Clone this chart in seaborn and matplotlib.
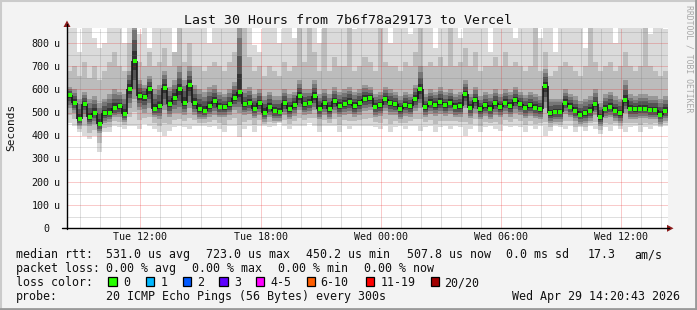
import numpy as np
import pandas as pd
import matplotlib
matplotlib.use("Agg")
import matplotlib.pyplot as plt
import seaborn as sns
from matplotlib.patches import Polygon, Rectangle
from matplotlib.lines import Line2D

# ---------------- data (microseconds), one value per 15-minute step ----------------
step_hours = 0.25
rtt_median = [
    576, 543, 470, 539, 479, 500, 451, 497, 500, 520, 527, 493, 603, 723, 571, 569, 600, 517, 529, 607,
    536, 564, 600, 543, 619, 543, 514, 507, 529, 550,
    526, 523, 536, 564, 590, 536, 543, 517, 540, 500, 526, 507, 503, 540, 514, 534, 571, 536, 543, 571,
    517, 540, 514, 550, 529, 537, 546, 529, 540, 560,
    563, 526, 531, 557, 540, 536, 514, 534, 529, 560, 600, 524, 543, 534, 546, 531, 543, 526, 529, 579,
    521, 554, 514, 531, 517, 540, 524, 543, 529, 554,
    536, 521, 531, 521, 514, 614, 497, 503, 503, 543, 526, 507, 491, 497, 507, 536, 479, 517, 526, 507,
    497, 554, 517, 514, 517, 517, 511, 511, 490, 508,
]
smoke_min = [
    457, 443, 414, 400, 386, 400, 329, 414, 414, 443, 436, 429, 443, 443, 429, 450, 443, 429, 414, 400,
    421, 436, 443, 436, 429, 443, 443, 443, 436, 443,
    429, 414, 443, 443, 393, 429, 443, 414, 443, 443, 436, 443, 457, 443, 429, 443, 443, 443, 457, 443,
    414, 443, 443, 443, 414, 443, 429, 443, 443, 443,
    443, 436, 429, 443, 414, 436, 443, 429, 443, 443, 421, 436, 443, 414, 436, 443, 429, 443, 436, 400,
    429, 443, 414, 436, 443, 429, 421, 443, 436, 443,
    436, 414, 443, 429, 443, 400, 421, 443, 436, 429, 443, 414, 436, 421, 443, 429, 407, 436, 421, 443,
    429, 414, 436, 443, 414, 436, 429, 443, 436, 443,
]
smoke_core_lo = [
    520, 500, 440, 480, 440, 450, 410, 455, 460, 480, 480, 460, 520, 560, 510, 500, 520, 480, 470, 510,
    480, 500, 500, 490, 520, 490, 470, 470, 480, 490,
    480, 480, 490, 510, 500, 490, 495, 475, 490, 460, 480, 465, 465, 490, 470, 485, 510, 490, 495, 510,
    470, 490, 470, 500, 480, 490, 495, 480, 490, 505,
    510, 480, 485, 505, 490, 490, 470, 485, 480, 505, 520, 480, 495, 485, 495, 485, 495, 480, 480, 520,
    475, 500, 470, 485, 470, 490, 480, 495, 480, 500,
    490, 475, 485, 475, 470, 520, 455, 460, 460, 495, 480, 465, 450, 455, 465, 490, 440, 475, 480, 465,
    455, 500, 470, 470, 475, 475, 470, 470, 450, 465,
]
smoke_core_hi = [
    610, 600, 560, 590, 560, 570, 540, 560, 580, 600, 590, 580, 680, 900, 640, 620, 660, 600, 620, 680,
    610, 640, 700, 640, 700, 620, 600, 590, 610, 620,
    590, 580, 600, 630, 900, 600, 610, 580, 600, 570, 590, 570, 570, 600, 580, 590, 640, 600, 600, 640,
    580, 600, 580, 610, 590, 600, 610, 590, 600, 620,
    610, 580, 590, 610, 600, 590, 570, 590, 580, 620, 700, 580, 600, 590, 610, 590, 600, 580, 590, 640,
    580, 610, 570, 590, 580, 600, 580, 600, 590, 610,
    590, 575, 590, 580, 570, 690, 560, 560, 560, 600, 580, 570, 550, 560, 570, 600, 540, 580, 590, 570,
    560, 640, 580, 570, 580, 580, 570, 570, 560, 570,
]
smoke_mid_hi = [
    680, 700, 660, 720, 650, 700, 640, 680, 720, 760, 700, 680, 800, 900, 720, 700, 760, 700, 720, 780,
    700, 760, 900, 720, 800, 700, 700, 680, 700, 720,
    700, 680, 720, 760, 900, 900, 740, 680, 700, 660, 700, 680, 660, 720, 680, 700, 900, 720, 900, 760,
    680, 900, 680, 740, 700, 700, 900, 680, 700, 740,
    720, 680, 900, 720, 700, 700, 680, 720, 700, 760, 900, 700, 720, 700, 740, 700, 900, 700, 720, 780,
    700, 760, 680, 700, 700, 740, 700, 760, 700, 720,
    700, 680, 700, 900, 680, 760, 660, 680, 700, 720, 700, 680, 660, 700, 900, 720, 680, 700, 720, 680,
    700, 760, 700, 680, 700, 900, 700, 680, 660, 680,
]
smoke_max = [
    900, 900, 760, 900, 900, 820, 780, 800, 900, 900, 900, 800, 900, 900, 840, 900, 780, 900, 900, 900,
    900, 740, 900, 900, 900, 900, 900, 900, 800, 900,
    900, 900, 900, 900, 900, 800, 900, 790, 760, 900, 900, 900, 800, 900, 900, 820, 900, 900, 760, 900,
    800, 840, 900, 900, 900, 900, 900, 860, 900, 900,
    900, 900, 900, 900, 800, 900, 900, 900, 840, 900, 900, 900, 900, 780, 900, 900, 900, 900, 820, 900,
    900, 900, 900, 900, 760, 900, 900, 900, 900, 820,
    900, 900, 900, 900, 820, 900, 900, 760, 900, 900, 900, 900, 900, 780, 900, 900, 900, 900, 900, 800,
    900, 900, 900, 900, 900, 900, 840, 900, 900, 860,
]

y_ticks = [0, 100, 200, 300, 400, 500, 600, 700, 800]
x_tick_labels = ["Tue 12:00", "Tue 18:00", "Wed 00:00", "Wed 06:00", "Wed 12:00"]
start_hour = 8 + 20 / 60  # Tue 08:20, 30 hours before Wed 14:20
title = "Last 30 Hours from 7b6f78a29173 to Vercel"

loss_labels = ["0", "1", "2", "3", "4-5", "6-10", "11-19", "20/20"]
loss_colors = ["#26ff00", "#00b8ff", "#0059ff", "#5e00ff", "#ff00ff", "#ff5e00", "#ff0000", "#a10000"]

n = len(rtt_median)
for arr in (smoke_min, smoke_core_lo, smoke_core_hi, smoke_mid_hi, smoke_max):
    assert len(arr) == n, len(arr)

# ---------------- figure ----------------
sns.set_theme(style="white")
plt.rcParams['font.family'] = ['DejaVu Sans Mono', 'DejaVu Sans']

W, H = 697, 310
fig = plt.figure(figsize=(W / 100, H / 100), dpi=100)
fig.patch.set_facecolor('#f3f3f3')

def P(x, y):
    return (x / W, 1 - y / H)

x0, x1, y0, y1 = 67, 668, 228.3, 28
ax = fig.add_axes([x0 / W, 1 - y0 / H, (x1 - x0) / W, (y0 - y1) / H])
ax.set_facecolor('white')
ymax = (y0 - y1) / 0.2315
ax.set_xlim(0, n * step_hours)
ax.set_ylim(0, ymax)
for s in ax.spines.values():
    s.set_visible(False)
ax.set_xticks([])
ax.set_yticks([])

edges = np.arange(n + 1) * step_hours
def ext(a):
    a = np.asarray(a, float)
    return np.append(a, a[-1])

med = np.asarray(rtt_median, float)
smin = np.asarray(smoke_min, float)
clo = np.asarray(smoke_core_lo, float)
chi = np.asarray(smoke_core_hi, float)

# smoke: lightest outer band, then mid band, then a shaded core darkening toward the median
ax.fill_between(edges, ext(smin), ext(smoke_max), step='post', color='#dadada', lw=0, zorder=1)
ax.fill_between(edges, ext((smin + clo) / 2), ext(smoke_mid_hi), step='post', color='#bcbcbc', lw=0, zorder=1.1)
shades = [(0.0, '#979797'), (0.25, '#767676'), (0.5, '#545454'), (0.75, '#333333')]
for k, (f, c) in enumerate(shades):
    lo = clo + (med - clo) * f
    hi = chi + (med - chi) * f
    ax.fill_between(edges, ext(lo), ext(hi), step='post', color=c, lw=0, zorder=1.2 + 0.01 * k)

# grid (drawn over the smoke, as rrdtool does)
dot = (0, (1, 1))
first_hour = np.ceil(start_hour) - start_hour
hours = first_hour + np.arange(0, 30)
hours = hours[hours < n * step_hours]
major_x = []
for h in hours:
    hod = int(round(start_hour + h)) % 24
    if hod % 6 == 0:
        major_x.append(h)
        ax.axvline(h, color=(0.9, 0.1, 0.1, 0.45), lw=0.72, ls=dot, zorder=3)
    else:
        ax.axvline(h, color=(0.45, 0.45, 0.45, 0.45), lw=0.72, ls=dot, zorder=3)
for v in np.arange(50, ymax, 50):
    if v % 100 == 0:
        ax.axhline(v, color=(0.9, 0.1, 0.1, 0.45), lw=0.72, ls=dot, zorder=3)
    else:
        ax.axhline(v, color=(0.45, 0.45, 0.45, 0.45), lw=0.72, ls=dot, zorder=3)

# median rtt: dark vertical connectors + green points
tmid = (np.arange(n) + 0.5) * step_hours
ax.vlines(edges[1:-1], med[:-1], med[1:], colors="#1a1a1a", lw=1.2, zorder=4)
df = pd.DataFrame({"t": tmid, "median": rtt_median})
sns.scatterplot(data=df, x="t", y="median", marker="s", s=5, color="#26ff00",
                linewidth=0, ax=ax, zorder=5, legend=False)
ax.set_xlabel("")
ax.set_ylabel("")

# axes lines and arrows
fig.add_artist(Line2D([P(62, 0)[0], P(669, 0)[0]], [P(0, y0)[1]] * 2, color='black', lw=1.0))
fig.add_artist(Line2D([P(x0, 0)[0]] * 2, [P(0, y0 + 1)[1], P(0, 24)[1]], color='black', lw=1.0))
fig.add_artist(Polygon([P(667, y0 - 3.5), P(673.5, y0), P(667, y0 + 3.5)], closed=True,
                       color='#8b1a1a', lw=0, transform=fig.transFigure))
fig.add_artist(Polygon([P(x0 - 3.5, 27), P(x0, 20.5), P(x0 + 3.5, 27)], closed=True,
                       color='#8b1a1a', lw=0, transform=fig.transFigure))

# y tick labels
for v in y_ticks:
    py = y0 - v * 0.2315
    fig.text(*P(49.5, py + 3.6), f"{v}", ha='right', va='baseline', fontsize=7.2, color='#111111')
    if v != 0:
        fig.text(*P(54, py + 3.6), "u", ha='left', va='baseline', fontsize=7.2, color='#111111')

# x tick labels
for h, lab in zip(major_x, x_tick_labels):
    px = x0 + h / (n * step_hours) * (x1 - x0)
    fig.text(*P(px, 240), lab, ha='center', va='baseline', fontsize=7.2, color='#111111')

fig.text(*P(11, 127), "Seconds", rotation=90, ha='center', va='center', fontsize=8, color='#111111')
fig.text(*P(348, 24), title, ha='center', va='baseline', fontsize=9.5, color='#111111')
fig.text(*P(688.5, 5), "RRDTOOL / TOBI OETIKER", rotation=270, ha='center', va='top',
         fontsize=5.9, color='#a8a8a8')

# legend rows
fs = 8.37
def t(x, yb, s):
    fig.text(*P(x - 0.5, yb), s, ha='left', va='baseline', fontsize=fs, color='#111111')

r1, r2, r3, r4 = 258.3, 272.3, 286.3, 300.0
t(16, r1, "median rtt:")
t(107, r1, "531.0 us avg")
t(207, r1, "723.0 us max")
t(307, r1, "450.2 us min")
t(408, r1, "507.8 us now")
t(507, r1, "0.0 ms sd")
t(588, r1, "17.3")
t(635, r1, "am/s")

t(16, r2, "packet loss:")
t(107, r2, "0.00 % avg")
t(193, r2, "0.00 % max")
t(279, r2, "0.00 % min")
t(364.5, r2, "0.00 % now")

t(16, r3, "loss color:")
box_x = [108.3, 145.7, 182.7, 219.3, 256.0, 306.7, 365.7, 430.7]
lab_x = [124, 160.7, 197.3, 234.3, 270.7, 320.7, 380.7, 445]
for bx, lx, lab, col in zip(box_x, lab_x, loss_labels, loss_colors):
    fig.add_artist(Rectangle(P(bx, 285.7), 8.3 / W, 8.3 / H, transform=fig.transFigure,
                             facecolor=col, edgecolor='black', lw=0.9))
    t(lx, r3, lab)

t(16, r4, "probe:")
t(107, r4, "20 ICMP Echo Pings (56 Bytes) every 300s")
t(513, r4, "Wed Apr 29 14:20:43 2026")

# 3D frame of the rrdtool canvas
fig.add_artist(Line2D([0, 1], [1 - 0.5 / H] * 2, color='#cbcbcb', lw=1.5))
fig.add_artist(Line2D([0.5 / W] * 2, [0, 1], color='#cbcbcb', lw=1.5))
fig.add_artist(Line2D([0, 1], [1.2 / H] * 2, color='#999999', lw=2))
fig.add_artist(Line2D([1 - 1.2 / W] * 2, [0, 1], color='#999999', lw=2))

fig.savefig("out.png", dpi=100, facecolor=fig.get_facecolor())
